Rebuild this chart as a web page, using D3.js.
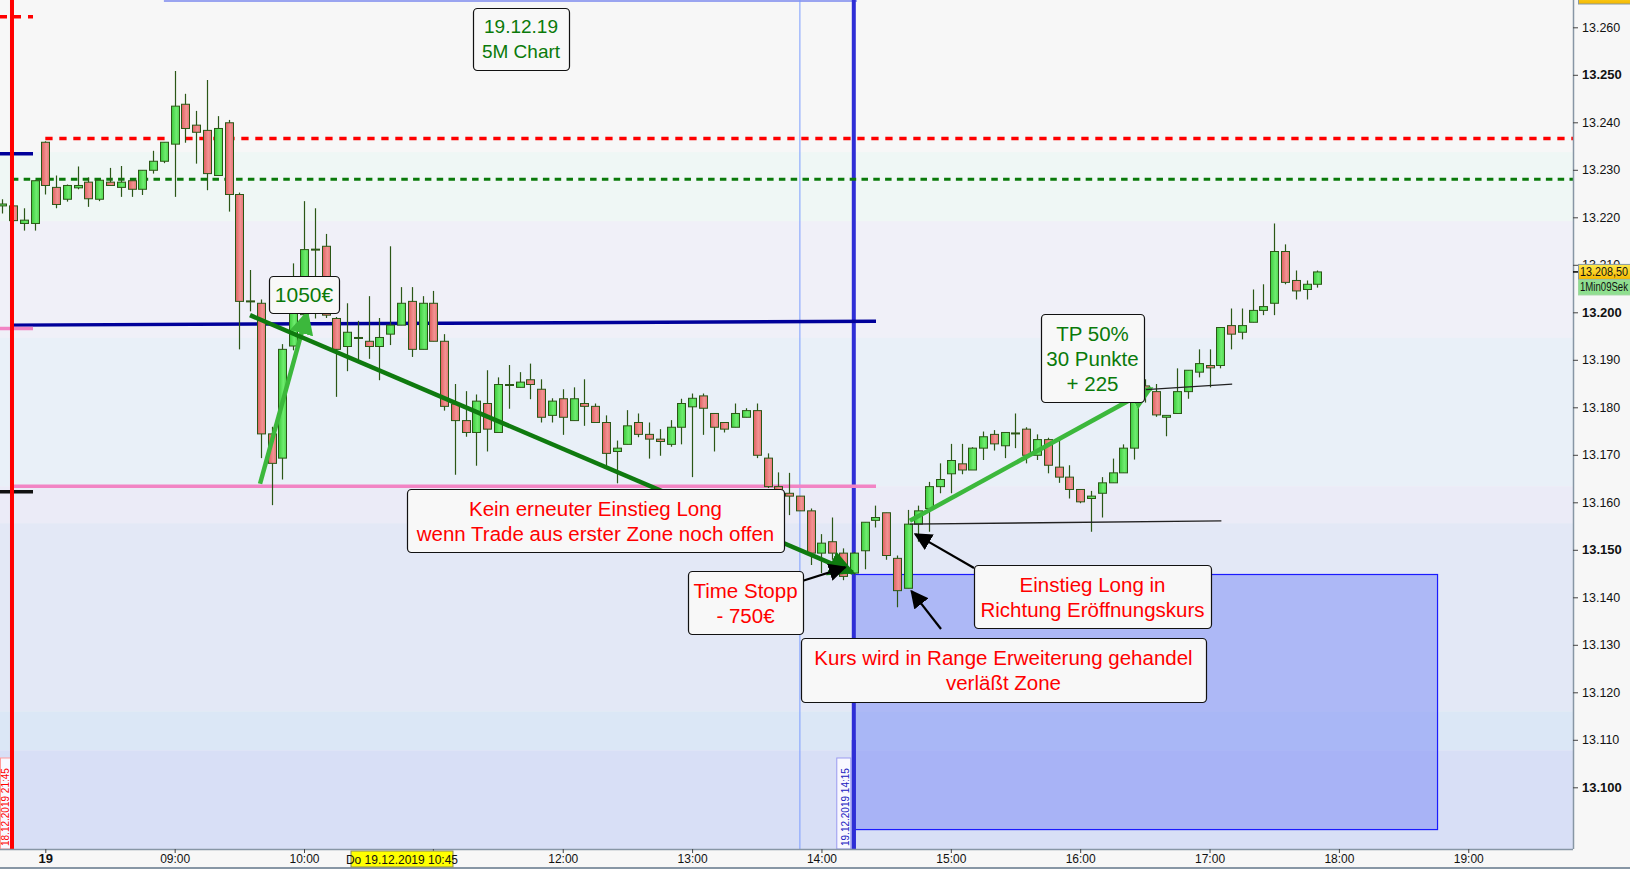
<!DOCTYPE html>
<html><head><meta charset="utf-8">
<script src="https://cdn.jsdelivr.net/npm/d3@7"></script>
<style>
body{margin:0;background:#f7f7f7;overflow:hidden}
svg{display:block;font-family:"Liberation Sans",Arial,sans-serif}
</style>
</head><body>
<svg id="c" width="1630" height="869"></svg>
<script>
// ---------- DATA ----------
// 5-minute candles; slot 0 = 08:00 on 19.12.2019, negative slots = late session of 18.12.
const firstSlot = -4;
const open  = [13222.4,13222.4,13218.7,13218.7,
 13235.8,13226.3,13223.8,13226.2,13227.4,13223.8,13227.4,13226.3,13227.7,13225.9,13229.9,13231.8,
 13235.4,13243.8,13239.4,13238.3,13228.8,13239.9,13224.8,13202.4,13201.9,13174.4,13169.3,13192.9,
 13199.5,13213.3,13213.9,13198.7,13192.8,13194.7,13193.9,13192.8,13195.4,13197.3,13202.3,13192.2,
 13201.9,13193.9,13180.7,13177.2,13174.7,13180.8,13174.7,13184.8,13184.2,13185.8,13183.8,13178.3,
 13181.8,13177.2,13180.8,13180.2,13176.8,13170.7,13172.2,13176.8,13174.3,13173.3,13172.2,13175.8,
 13180.1,13182.4,13178.7,13176.8,13175.8,13177.9,13179.3,13169.3,13163.3,13161.9,13161.3,13158.2,
 13149.3,13151.7,13149.3,13145.1,13149.8,13156.2,13157.8,13148.2,13141.9,13155.4,13158.7,13163.3,
 13166.0,13168.1,13166.8,13171.4,13174.3,13171.9,13174.6,13175.4,13169.9,13173.2,13167.4,13165.3,
 13162.7,13160.8,13161.9,13164.1,13166.2,13171.4,13184.5,13183.3,13177.9,13178.7,13183.3,13187.4,
 13188.8,13188.8,13197.2,13195.8,13197.9,13200.4,13201.9,13212.8,13206.7,13204.8,13205.9];
const high  = [13223.8,13222.6,13221.9,13227.8,
 13236.0,13228.8,13226.9,13230.7,13228.4,13227.8,13230.4,13230.8,13227.7,13229.9,13234.0,13235.8,
 13250.8,13246.0,13242.4,13248.9,13241.3,13240.5,13225.2,13208.9,13202.7,13175.9,13193.3,13210.3,
 13223.4,13221.9,13216.5,13199.0,13201.9,13198.2,13203.4,13198.8,13213.9,13205.3,13205.3,13203.4,
 13204.5,13195.4,13184.9,13183.4,13182.7,13187.8,13186.3,13188.9,13187.4,13189.2,13185.9,13181.9,
 13183.8,13184.2,13185.9,13180.8,13178.3,13173.0,13179.4,13178.7,13176.8,13175.4,13177.3,13181.8,
 13182.9,13182.9,13178.7,13176.8,13180.8,13179.8,13180.8,13170.3,13166.3,13166.2,13161.3,13158.7,
 13153.3,13156.8,13150.3,13149.5,13155.8,13159.3,13157.8,13148.8,13158.4,13159.3,13164.3,13168.2,
 13172.3,13172.3,13171.6,13174.9,13175.2,13174.7,13178.7,13175.8,13174.3,13173.6,13173.2,13167.8,
 13162.7,13162.4,13165.3,13169.2,13172.2,13186.0,13185.9,13184.9,13178.3,13188.2,13187.8,13192.2,
 13192.2,13196.8,13200.8,13200.8,13204.8,13205.9,13218.7,13214.3,13208.8,13206.7,13208.8];
const low   = [13220.8,13219.1,13217.2,13217.2,
 13224.8,13221.9,13223.3,13225.9,13222.2,13223.4,13226.7,13224.3,13224.3,13224.7,13229.2,13231.4,
 13224.3,13235.7,13231.3,13225.7,13228.8,13221.2,13192.2,13200.2,13169.3,13159.4,13164.8,13192.0,
 13198.0,13198.7,13198.8,13182.2,13187.6,13189.9,13190.2,13185.7,13193.1,13197.3,13190.6,13192.2,
 13193.9,13179.3,13165.8,13173.8,13167.7,13170.7,13174.7,13179.7,13184.2,13181.7,13176.8,13176.8,
 13174.2,13177.2,13176.1,13176.8,13167.7,13164.0,13172.2,13173.7,13169.2,13169.8,13171.7,13172.2,
 13165.3,13174.2,13170.7,13174.7,13175.8,13177.9,13169.3,13163.0,13160.0,13157.3,13158.2,13146.8,
 13145.1,13147.9,13143.6,13144.8,13145.9,13154.7,13147.9,13137.9,13141.9,13151.7,13153.8,13161.9,
 13161.9,13165.9,13166.8,13168.9,13170.9,13169.3,13171.4,13168.2,13168.9,13166.1,13164.1,13160.8,
 13159.8,13153.8,13156.8,13164.1,13166.2,13169.0,13181.0,13178.0,13173.9,13178.7,13181.8,13186.3,
 13184.2,13188.2,13192.2,13194.3,13197.9,13199.4,13199.4,13205.9,13202.7,13202.7,13205.2];
const close = [13222.8,13219.3,13219.4,13227.7,
 13226.7,13222.7,13226.7,13226.7,13223.9,13227.8,13226.7,13227.4,13225.9,13229.9,13231.8,13235.8,
 13243.4,13238.7,13237.9,13229.2,13238.7,13224.8,13202.3,13202.2,13174.4,13168.2,13192.2,13200.5,
 13213.2,13213.1,13199.4,13192.2,13195.8,13194.7,13192.8,13194.7,13197.3,13201.9,13192.2,13201.9,
 13193.9,13180.2,13177.2,13174.7,13181.3,13175.4,13184.8,13184.8,13185.3,13184.8,13177.9,13181.3,
 13177.9,13181.8,13180.2,13176.8,13170.3,13171.4,13176.1,13174.3,13173.3,13172.8,13175.8,13180.8,
 13181.9,13179.8,13175.8,13175.4,13178.7,13179.3,13169.9,13163.3,13162.0,13161.3,13158.2,13149.3,
 13151.4,13149.3,13144.4,13149.3,13155.8,13156.8,13148.8,13141.4,13155.4,13158.2,13163.3,13164.8,
 13168.8,13166.8,13171.4,13173.8,13172.3,13174.7,13174.5,13169.9,13173.2,13167.8,13165.3,13162.7,
 13160.1,13161.3,13164.1,13166.2,13171.4,13184.5,13183.3,13178.4,13178.3,13183.3,13187.8,13189.2,
 13188.3,13196.8,13195.4,13197.2,13200.4,13201.2,13212.8,13206.3,13204.5,13205.9,13208.5];

const priceTicks = [13100,13110,13120,13130,13140,13150,13160,13170,13180,13190,13200,13210,13220,13230,13240,13250,13260];
const timeTickSlots  = [0,12,24,48,60,72,84,96,108,120,132];
const timeTickLabels = ["19","09:00","10:00","12:00","13:00","14:00","15:00","16:00","17:00","18:00","19:00"];

// background price zones (upper bound, lower bound, colour)
const zoneTop    = [13300,  13233.7,13219.2,13194.6,13163.4,13155.6,13116.0,13107.8];
const zoneBottom = [13233.7,13219.2,13194.6,13163.4,13155.6,13116.0,13107.8,13000];
const zoneColor  = ["#f7f7f7","#eff7f5","#f0f0f8","#e9f0f8","#ebebf7","#e3e8f6","#dbe7f6","#d8dff6"];

const lastPrice = 13208.5;

// ---------- LAYOUT ----------
const W = 1630, H = 869, plotR = 1573, plotB = 849;
const x = d3.scaleLinear().domain([0, 132]).range([45.3, 45.3 + 132 * 10.78]);
const y = d3.scaleLinear().domain([13100, 13260]).range([787.3, 27.3]);
const svg = d3.select("#c");
const defs = svg.append("defs");

function grad(id, a, b, c) {
  const g = defs.append("linearGradient").attr("id", id).attr("x1", "0").attr("x2", "1").attr("y1", "0").attr("y2", "0");
  g.append("stop").attr("offset", "0").attr("stop-color", a);
  g.append("stop").attr("offset", "0.6").attr("stop-color", b);
  g.append("stop").attr("offset", "1").attr("stop-color", c);
}
grad("gUp", "#3ccb3c", "#6fec6f", "#4fd84f");
grad("gDn", "#df5f5f", "#f29393", "#e77474");
const yel = defs.append("linearGradient").attr("id", "gYel").attr("x1", 0).attr("x2", 0).attr("y1", 0).attr("y2", 1);
yel.append("stop").attr("offset", 0).attr("stop-color", "#ffe84a");
yel.append("stop").attr("offset", 1).attr("stop-color", "#f5b800");

function marker(id, color, size) {
  defs.append("marker").attr("id", id).attr("viewBox", "0 0 10 10").attr("refX", 9).attr("refY", 5)
    .attr("markerWidth", size).attr("markerHeight", size).attr("orient", "auto").attr("markerUnits", "userSpaceOnUse")
    .append("path").attr("d", "M0,0 L10,5 L0,10 Z").attr("fill", color);
}
marker("mDark", "#0f7a0f", 26);
marker("mLight", "#3cb83c", 24);
marker("mBlack", "#000", 18);

defs.append("clipPath").attr("id", "plotClip").append("rect").attr("x", 0).attr("y", 0).attr("width", plotR).attr("height", plotB);

// ---------- BACKGROUND ZONES ----------
const plot = svg.append("g").attr("clip-path", "url(#plotClip)");
plot.selectAll("rect.zone").data(zoneColor).join("rect").attr("class", "zone")
  .attr("x", 0).attr("width", plotR)
  .attr("y", (d, i) => y(zoneTop[i])).attr("height", (d, i) => y(zoneBottom[i]) - y(zoneTop[i]))
  .attr("fill", d => d);

// top thin line (upper edge of a box)
plot.append("line").attr("x1", x(11)).attr("x2", x(75.3)).attr("y1", 1).attr("y2", 1)
  .attr("stroke", "#9aa4f0").attr("stroke-width", 2);

// blue target box after 14:15
plot.append("rect").attr("x", x(75)).attr("y", y(13144.8))
  .attr("width", x(129.15) - x(75)).attr("height", y(13091.1) - y(13144.8))
  .attr("fill", "rgba(120,135,245,0.5)").attr("stroke", "#1a1aff").attr("stroke-width", 1.2);

// vertical lines
plot.append("line").attr("x1", x(70)).attr("x2", x(70)).attr("y1", 0).attr("y2", plotB).attr("stroke", "#7a9cff").attr("stroke-width", 1);
plot.append("line").attr("x1", x(75)).attr("x2", x(75)).attr("y1", 0).attr("y2", plotB).attr("stroke", "#2e2ed6").attr("stroke-width", 4);

// horizontal levels
plot.append("line").attr("x1", x(0)).attr("x2", plotR).attr("y1", y(13236.6)).attr("y2", y(13236.6))
  .attr("stroke", "#ff0000").attr("stroke-width", 3.6).attr("stroke-dasharray", "7.3,6.7");
plot.append("line").attr("x1", x(-3.1)).attr("x2", plotR).attr("y1", y(13228)).attr("y2", y(13228))
  .attr("stroke", "#0a7a0a").attr("stroke-width", 3).attr("stroke-dasharray", "6.5,5.3");
plot.append("line").attr("x1", x(-3.1)).attr("x2", x(77.06)).attr("y1", y(13163.4)).attr("y2", y(13163.4))
  .attr("stroke", "#f284c4").attr("stroke-width", 3.5);
plot.append("line").attr("x1", x(-3.1)).attr("x2", x(77.06)).attr("y1", y(13197.3)).attr("y2", y(13198.1))
  .attr("stroke", "#00009a").attr("stroke-width", 3.5);

// short markers at left edge
plot.append("line").attr("x1", 0).attr("x2", x(-1.14)).attr("y1", y(13262.2)).attr("y2", y(13262.2))
  .attr("stroke", "#ff0000").attr("stroke-width", 3.5).attr("stroke-dasharray", "7,7");
plot.append("line").attr("x1", 0).attr("x2", x(-1.14)).attr("y1", y(13233.4)).attr("y2", y(13233.4))
  .attr("stroke", "#00009a").attr("stroke-width", 3.5);
plot.append("line").attr("x1", 0).attr("x2", x(-1.14)).attr("y1", y(13196.6)).attr("y2", y(13196.6))
  .attr("stroke", "#f284c4").attr("stroke-width", 3.5);
plot.append("line").attr("x1", 0).attr("x2", x(-1.14)).attr("y1", y(13162.2)).attr("y2", y(13162.2))
  .attr("stroke", "#111").attr("stroke-width", 3.5);

// ---------- CANDLES ----------
const candles = open.map((o, i) => ({ s: firstSlot + i, o, h: high[i], l: low[i], c: close[i] }));
const cg = plot.append("g");
cg.selectAll("line.wick").data(candles).join("line").attr("class", "wick")
  .attr("x1", d => Math.round(x(d.s)) + 0.5).attr("x2", d => Math.round(x(d.s)) + 0.5)
  .attr("y1", d => y(d.h)).attr("y2", d => y(d.l))
  .attr("stroke", "#2b5716").attr("stroke-width", 1.2);
cg.selectAll("rect.body").data(candles).join("rect").attr("class", "body")
  .attr("x", d => Math.round(x(d.s)) - 3.5).attr("width", 8)
  .attr("y", d => y(Math.max(d.o, d.c)))
  .attr("height", d => Math.max(1, Math.abs(y(d.o) - y(d.c))))
  .attr("fill", d => d.c >= d.o ? "url(#gUp)" : "url(#gDn)")
  .attr("stroke", "#2b5716").attr("stroke-width", 1);

// red session line 18.12. 21:45
plot.append("line").attr("x1", x(-3.09)).attr("x2", x(-3.09)).attr("y1", 0).attr("y2", plotB)
  .attr("stroke", "#ff0000").attr("stroke-width", 4);

// ---------- TREND LINES / ARROWS ----------
plot.append("line").attr("x1", x(19.92)).attr("y1", y(13163.9)).attr("x2", x(24.3)).attr("y2", y(13200))
  .attr("stroke", "#3cb83c").attr("stroke-width", 4.5).attr("marker-end", "url(#mLight)");
plot.append("line").attr("x1", x(18.99)).attr("y1", y(13199.4)).attr("x2", x(74.9)).attr("y2", y(13145.2))
  .attr("stroke", "#0f7a0f").attr("stroke-width", 4.5).attr("marker-end", "url(#mDark)");
plot.append("line").attr("x1", x(80.2)).attr("y1", y(13156.1)).attr("x2", x(102.6)).attr("y2", y(13184))
  .attr("stroke", "#3cb83c").attr("stroke-width", 4.5).attr("marker-end", "url(#mLight)");
plot.append("line").attr("x1", x(80.2)).attr("y1", y(13155.4)).attr("x2", x(109.1)).attr("y2", y(13156.1))
  .attr("stroke", "#222").attr("stroke-width", 1.3);
plot.append("line").attr("x1", x(102.1)).attr("y1", y(13183.7)).attr("x2", x(110.1)).attr("y2", y(13184.9))
  .attr("stroke", "#222").attr("stroke-width", 1.3);

// ---------- TEXT BOXES ----------
function box(x0, y0, w, h, lines, color, size, lh, r) {
  const g = svg.append("g");
  g.append("rect").attr("x", x0 + 0.5).attr("y", y0 + 0.5).attr("width", w).attr("height", h).attr("rx", r || 4)
    .attr("fill", "#f8f8f8").attr("stroke", "#111").attr("stroke-width", 1.2);
  const cy = y0 + h / 2 - (lines.length - 1) * lh / 2;
  lines.forEach((t, i) => g.append("text").attr("x", x0 + w / 2).attr("y", cy + i * lh)
    .attr("text-anchor", "middle").attr("dominant-baseline", "central")
    .attr("font-size", size).attr("fill", color).text(t));
}
function arrow(x1, y1, x2, y2) {
  svg.append("line").attr("x1", x1).attr("y1", y1).attr("x2", x2).attr("y2", y2)
    .attr("stroke", "#000").attr("stroke-width", 2.2).attr("marker-end", "url(#mBlack)");
}
arrow(803, 580.7, x(74.2), y(13146.3));
arrow(974, 568, x(80.7), y(13153.3));
arrow(941, 629, x(80.35), y(13141.3));

box(473, 8, 96, 62, ["19.12.19", "5M Chart"], "#0a7a0a", 19, 25);
box(269, 276, 70, 37, ["1050€"], "#0a7a0a", 21, 0);
box(407, 489, 377, 63, ["Kein erneuter Einstieg Long", "wenn Trade aus erster Zone noch offen"], "#ff0000", 20.5, 25);
box(688, 571, 115, 63, ["Time Stopp", "- 750€"], "#ff0000", 20.5, 25);
box(974, 565, 237, 63, ["Einstieg Long in", "Richtung Eröffnungskurs"], "#ff0000", 20.5, 25);
box(801, 638, 405, 64, ["Kurs wird in Range Erweiterung gehandel", "verläßt Zone"], "#ff0000", 20.5, 25);
box(1041, 314, 103, 88, ["TP 50%", "30 Punkte", "+ 225"], "#0a7a0a", 20.5, 25);

// vertical date labels
function vlabel(x0, w, color, border, text) {
  const g = svg.append("g");
  g.append("rect").attr("x", x0).attr("y", 758).attr("width", w).attr("height", plotB - 758)
    .attr("fill", "#f8f8ff").attr("stroke", border).attr("stroke-width", 1);
  g.append("text").attr("transform", `translate(${x0 + w - 2},${plotB - 3}) rotate(-90)`)
    .attr("font-size", 10).attr("fill", color).text(text);
}
vlabel(0.5, 10, "#ff0000", "#ff9a9a", "18.12.2019 21:45");
svg.append("line").attr("x1", x(-3.09)).attr("x2", x(-3.09)).attr("y1", 740).attr("y2", plotB).attr("stroke", "#ff0000").attr("stroke-width", 4);
vlabel(x(75) - 17, 14, "#2020c0", "#9a9af0", "19.12.2019 14:15");
svg.append("line").attr("x1", x(75)).attr("x2", x(75)).attr("y1", 740).attr("y2", plotB).attr("stroke", "#2e2ed6").attr("stroke-width", 4);

// ---------- AXES ----------
svg.append("rect").attr("x", plotR).attr("y", 0).attr("width", W - plotR).attr("height", H).attr("fill", "#f7f7f7");
svg.append("rect").attr("x", 0).attr("y", plotB).attr("width", W).attr("height", H - plotB).attr("fill", "#f7f7f7");
svg.append("line").attr("x1", plotR + 0.5).attr("x2", plotR + 0.5).attr("y1", 0).attr("y2", plotB)
  .attr("stroke", "#8796a5").attr("stroke-width", 1.5);
svg.append("line").attr("x1", 0).attr("x2", plotR).attr("y1", plotB + 0.5).attr("y2", plotB + 0.5)
  .attr("stroke", "#8796a5").attr("stroke-width", 1.5);
svg.append("line").attr("x1", 0).attr("x2", W).attr("y1", H - 1).attr("y2", H - 1).attr("stroke", "#8796a5").attr("stroke-width", 2);

const yAxis = d3.axisRight(y).tickValues(priceTicks).tickSize(5)
  .tickFormat(d => d3.format(",")(d).replace(",", "."));
const ya = svg.append("g").attr("transform", `translate(${plotR},0)`).call(yAxis);
ya.select(".domain").remove();
ya.selectAll(".tick line").attr("stroke", "#444");
ya.selectAll(".tick text").attr("x", 9).attr("fill", "#111").attr("font-family", "Liberation Sans, Arial")
  .attr("font-size", d => d % 50 === 0 ? 13 : 12.5)
  .attr("font-weight", d => d % 50 === 0 ? "bold" : "normal");

const xa = svg.append("g").attr("transform", `translate(0,${plotB})`)
  .call(d3.axisBottom(x).tickValues(timeTickSlots).tickSize(4).tickFormat((d, i) => timeTickLabels[i]));
xa.select(".domain").remove();
xa.selectAll(".tick line").attr("stroke", "#444");
xa.selectAll(".tick text").attr("y", 5).attr("fill", "#111")
  .attr("font-family", "Liberation Sans Narrow, Liberation Sans, Arial")
  .attr("font-size", (d, i) => i === 0 ? 13 : 12).attr("font-weight", (d, i) => i === 0 ? "bold" : "normal");
// hidden 11:00 tick mark (label covered by crosshair label)
svg.append("line").attr("x1", x(36)).attr("x2", x(36)).attr("y1", plotB).attr("y2", plotB + 4).attr("stroke", "#444");

// crosshair time label
svg.append("rect").attr("x", 351).attr("y", 851).attr("width", 102).attr("height", 16)
  .attr("fill", "#ffff00").attr("stroke", "#8a8a60").attr("stroke-width", 1);
svg.append("text").attr("x", 402).attr("y", 859.5).attr("text-anchor", "middle").attr("dominant-baseline", "central")
  .attr("font-family", "Liberation Sans Narrow, Liberation Sans, Arial").attr("font-size", 12).attr("fill", "#111").text("Do 19.12.2019 10:45");

// last price labels
function priceTag(yc, fill, stroke, text) {
  svg.append("rect").attr("x", 1578.5).attr("y", yc - 7.5).attr("width", 52).attr("height", 15)
    .attr("fill", fill).attr("stroke", stroke);
  svg.append("text").attr("x", 1580).attr("y", yc).attr("dominant-baseline", "central")
    .attr("font-size", 12).attr("textLength", 48).attr("lengthAdjust", "spacingAndGlyphs")
    .attr("fill", "#111").text(text);
}
svg.append("line").attr("x1", plotR).attr("x2", plotR + 6).attr("y1", y(lastPrice)).attr("y2", y(lastPrice)).attr("stroke", "#000").attr("stroke-width", 1.5);
priceTag(y(lastPrice), "url(#gYel)", "#8a9aa0",
  d3.format(",.2f")(lastPrice).replace(",", "#").replace(".", ",").replace("#", "."));
priceTag(y(lastPrice) + 15.5, "#8fdf8f", "#a0d8a0", "1Min09Sek");
// label clipped by the top edge
svg.append("rect").attr("x", 1578.5).attr("y", -11).attr("width", 52).attr("height", 15)
  .attr("fill", "url(#gYel)").attr("stroke", "#8a9aa0");
</script>
</body></html>
